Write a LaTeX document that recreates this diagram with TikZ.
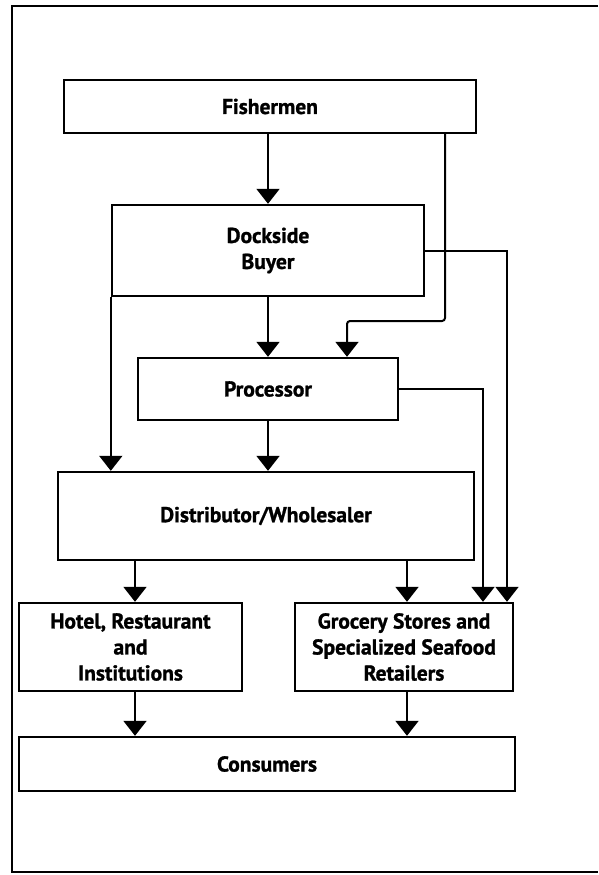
\documentclass[tikz,border=0pt]{standalone}
\usepackage{fontspec}
\setmainfont{PT Sans}[BoldFeatures={FakeBold=1.2}]
\usetikzlibrary{arrows.meta}
\begin{document}
\begin{tikzpicture}[x=1pt,y=-1pt,
  box/.style={draw,line width=2.4pt,rectangle,inner sep=0pt,align=center,
    font=\bfseries\fontsize{21.5}{26}\selectfont},
  arr/.style={line width=2pt,-{Triangle[width=23pt,length=15pt]}}]
\useasboundingbox (0,0) rectangle (598,875);
\draw[line width=2.4pt] (598,6) -- (12,6) -- (12,872) -- (598,872);
\node[box,minimum width=412pt,minimum height=53pt] (fish) at (270,106.5) {Fishermen};
\node[box,minimum width=312pt,minimum height=91pt] (dock) at (268,250.5) {Dockside\\Buyer};
\node[box,minimum width=260pt,minimum height=62pt] (proc) at (268,389) {Processor};
\node[box,minimum width=416pt,minimum height=88pt] (dist) at (266,516) {Distributor/Wholesaler};
\node[box,minimum width=223pt,minimum height=88pt] (hotel) at (130.5,647) {Hotel, Restaurant\\and\\Institutions};
\node[box,minimum width=218pt,minimum height=88pt] (groc) at (404,647) {Grocery Stores and\\Specialized Seafood\\Retailers};
\node[box,minimum width=496pt,minimum height=54pt] (cons) at (267,764) {Consumers};
\coordinate (b1) at (445,321);
\coordinate (b2) at (347,321);
\coordinate (c3) at (507,0);
\coordinate (c7) at (483,0);
\coordinate (c5) at (135,0);
\coordinate (c6) at (407,0);
\draw[arr] (fish.south -| dock.north) -- (dock.north);
\draw[arr,rounded corners=3pt] (b1 |- fish.south) -- (b1) -- (b2) -- (b2 |- proc.north);
\draw[arr] (dock.east) -| (c3 |- groc.north);
\draw[arr] (dock.south) -- (dock.south |- proc.north);
\draw[arr] (dock.south west) -- (dock.south west |- dist.north);
\draw[arr] (proc.south) -- (proc.south |- dist.north);
\draw[arr] (proc.east) -| (c7 |- groc.north);
\draw[arr] (c5 |- dist.south) -- (c5 |- hotel.north);
\draw[arr] (c6 |- dist.south) -- (c6 |- groc.north);
\draw[arr] (c5 |- hotel.south) -- (c5 |- cons.north);
\draw[arr] (c6 |- groc.south) -- (c6 |- cons.north);
\end{tikzpicture}
\end{document}
